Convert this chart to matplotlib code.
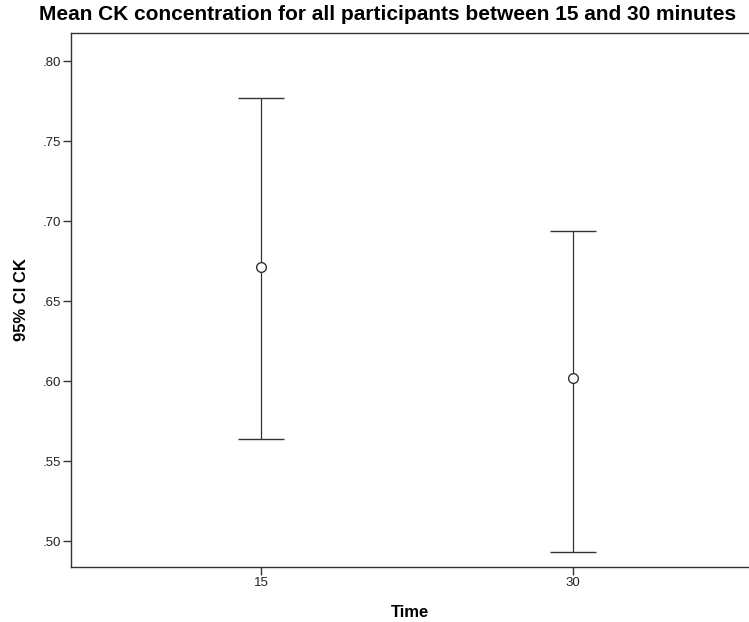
import matplotlib
matplotlib.use("Agg")
import matplotlib.pyplot as plt

# Mean CK concentration with 95% confidence intervals
times = ["15", "30"]
means = [0.671, 0.602]
ci_lower = [0.564, 0.493]
ci_upper = [0.777, 0.694]

plt.rcParams["font.family"] = ["Liberation Sans", "DejaVu Sans"]

fig = plt.figure(figsize=(7.49, 6.22), dpi=100)
ax = fig.add_axes([71 / 749, 1 - 567 / 622, (749 - 71) / 749, (567 - 33) / 622])

pos = list(range(len(times)))
yerr = [[m - lo for m, lo in zip(means, ci_lower)],
        [hi - m for m, hi in zip(means, ci_upper)]]
line_col = "#333333"
ax.errorbar(pos, means, yerr=yerr, fmt="o", mfc="white", mec=line_col,
            ms=7, mew=1.0, ecolor=line_col, elinewidth=0.9,
            capsize=16.8, capthick=0.9, zorder=3)

ax.set_xlim(-0.61, 1.565)
ax.set_ylim(0.48375, 0.8175)
ax.set_xticks(pos)
ax.set_xticklabels(times)
yt = [0.50, 0.55, 0.60, 0.65, 0.70, 0.75, 0.80]
ax.set_yticks(yt)
ax.set_yticklabels([f"{v:.2f}"[1:] for v in yt])

for s in ["left", "bottom", "top"]:
    ax.spines[s].set_color("#333333")
    ax.spines[s].set_linewidth(1.0)
ax.spines["right"].set_visible(False)
ax.tick_params(axis="both", direction="out", length=6, width=1.0,
               color="#333333", labelsize=9.5, labelcolor="#222222", pad=1)

ax.set_xlabel("Time", fontsize=12, fontweight="bold", labelpad=12)
ax.set_ylabel("95% CI CK", fontsize=12, fontweight="bold", labelpad=10)

fig.text(388 / 749, 1 - 14 / 622, "Mean CK concentration for all participants between 15 and 30 minutes",
         ha="center", va="center", fontsize=15, fontweight="bold")

fig.savefig("out.png", dpi=100)
